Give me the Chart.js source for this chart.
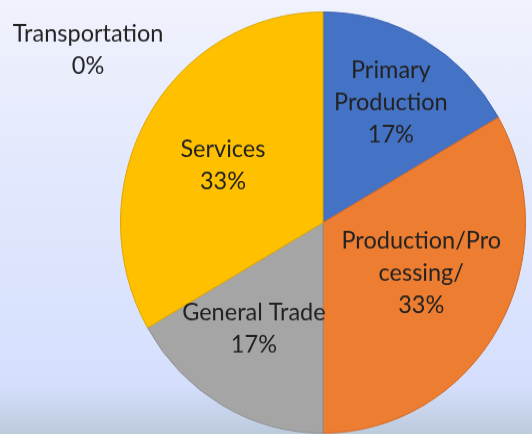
<!DOCTYPE html>
<html>
<head>
<meta charset="utf-8">
<script src="https://cdn.jsdelivr.net/npm/chart.js@4.4.1/dist/chart.umd.min.js"></script>
<style>
    html, body {
        margin: 0;
        padding: 0;
        width: 532px;
        height: 434px;
        overflow: hidden;
    }
    body {
        background: linear-gradient(to bottom, #f0f2fc 0%, #e2e8fd 40%, #d5dffd 89%, #c6d3ea 95%, #bccadc 100%);
    }
    /* the source image is stretched a little vertically */
    #wrap {
        width: 532px;
        height: 418px;
        transform: scaleY(1.04);
        transform-origin: 0 0;
    }
</style>
</head>
<body>
<div id="wrap"><canvas id="pieChart" width="532" height="418"></canvas></div>
<script>
// Chart data
const categories = ['Primary Production', 'Production/Processing/', 'General Trade', 'Services', 'Transportation'];
const shares = [16.67, 33.33, 16.67, 33.33, 0];
const sliceColors = ['#4472c4', '#ed7d31', '#a5a5a5', '#ffc000', '#5b9bd5'];
const sliceBorders = ['#3a63ae', '#cf6a27', '#8f8f8f', '#dca600', '#4f88bb'];

const FONT = '23.5px Lato, "Open Sans", sans-serif';
const LINE_H = 31;
const WRAP_W = 162;

// wrap a label to the box width, breaking words by characters if needed
function wrapLabel(ctx, text) {
    const lines = [];
    let cur = '';
    for (const ch of text) {
        const test = cur + ch;
        if (ctx.measureText(test).width > WRAP_W && cur.length) {
            const sp = cur.lastIndexOf(' ');
            if (ch !== ' ' && sp > 0) {
                lines.push(cur.slice(0, sp));
                cur = cur.slice(sp + 1) + ch;
            } else {
                lines.push(cur);
                cur = ch === ' ' ? '' : ch;
            }
        } else {
            cur = test;
        }
    }
    if (cur.length) lines.push(cur);
    return lines;
}

// label placement: fraction of radius and angle nudge (degrees) from the slice middle
const labelRadius = [0.66, 0.54, 0.61, 0.565];
const labelNudge = [0.5, -4, 4, -1];

const sliceLabels = {
    id: 'sliceLabels',
    afterDatasetsDraw(chart) {
        const ctx = chart.ctx;
        const meta = chart.getDatasetMeta(0);
        const data = chart.data.datasets[0].data;
        const total = data.reduce((a, b) => a + b, 0);
        ctx.save();
        ctx.font = FONT;
        ctx.fillStyle = '#222222';
        ctx.textAlign = 'center';
        ctx.textBaseline = 'middle';
        meta.data.forEach((arc, i) => {
            const p = arc.getProps(['x', 'y', 'startAngle', 'endAngle', 'outerRadius'], true);
            const pct = Math.round(data[i] / total * 100) + '%';
            const lines = wrapLabel(ctx, chart.data.labels[i]);
            lines.push(pct);
            let cx, cy;
            if (data[i] > 0) {
                const mid = (p.startAngle + p.endAngle) / 2 + labelNudge[i] * Math.PI / 180;
                const d = p.outerRadius * labelRadius[i];
                cx = p.x + Math.cos(mid) * d;
                cy = p.y + Math.sin(mid) * d;
            } else {
                // empty slice: label sits outside, up and to the left
                cx = p.x - p.outerRadius * 1.16;
                cy = p.y - p.outerRadius * 0.82;
            }
            const top = cy - (lines.length - 1) * LINE_H / 2;
            lines.forEach((ln, k) => ctx.fillText(ln, cx, top + k * LINE_H));
        });
        ctx.restore();
    }
};

new Chart(document.getElementById('pieChart'), {
    type: 'pie',
    data: {
        labels: categories,
        datasets: [{
            data: shares,
            backgroundColor: sliceColors,
            borderColor: sliceBorders,
            borderWidth: 1
        }]
    },
    options: {
        responsive: false,
        devicePixelRatio: 1,
        animation: false,
        layout: {
            padding: { left: 120, right: 6, top: 11, bottom: 1 }
        },
        plugins: {
            legend: { display: false },
            tooltip: { enabled: false }
        }
    },
    plugins: [sliceLabels]
});
</script>
</body>
</html>
